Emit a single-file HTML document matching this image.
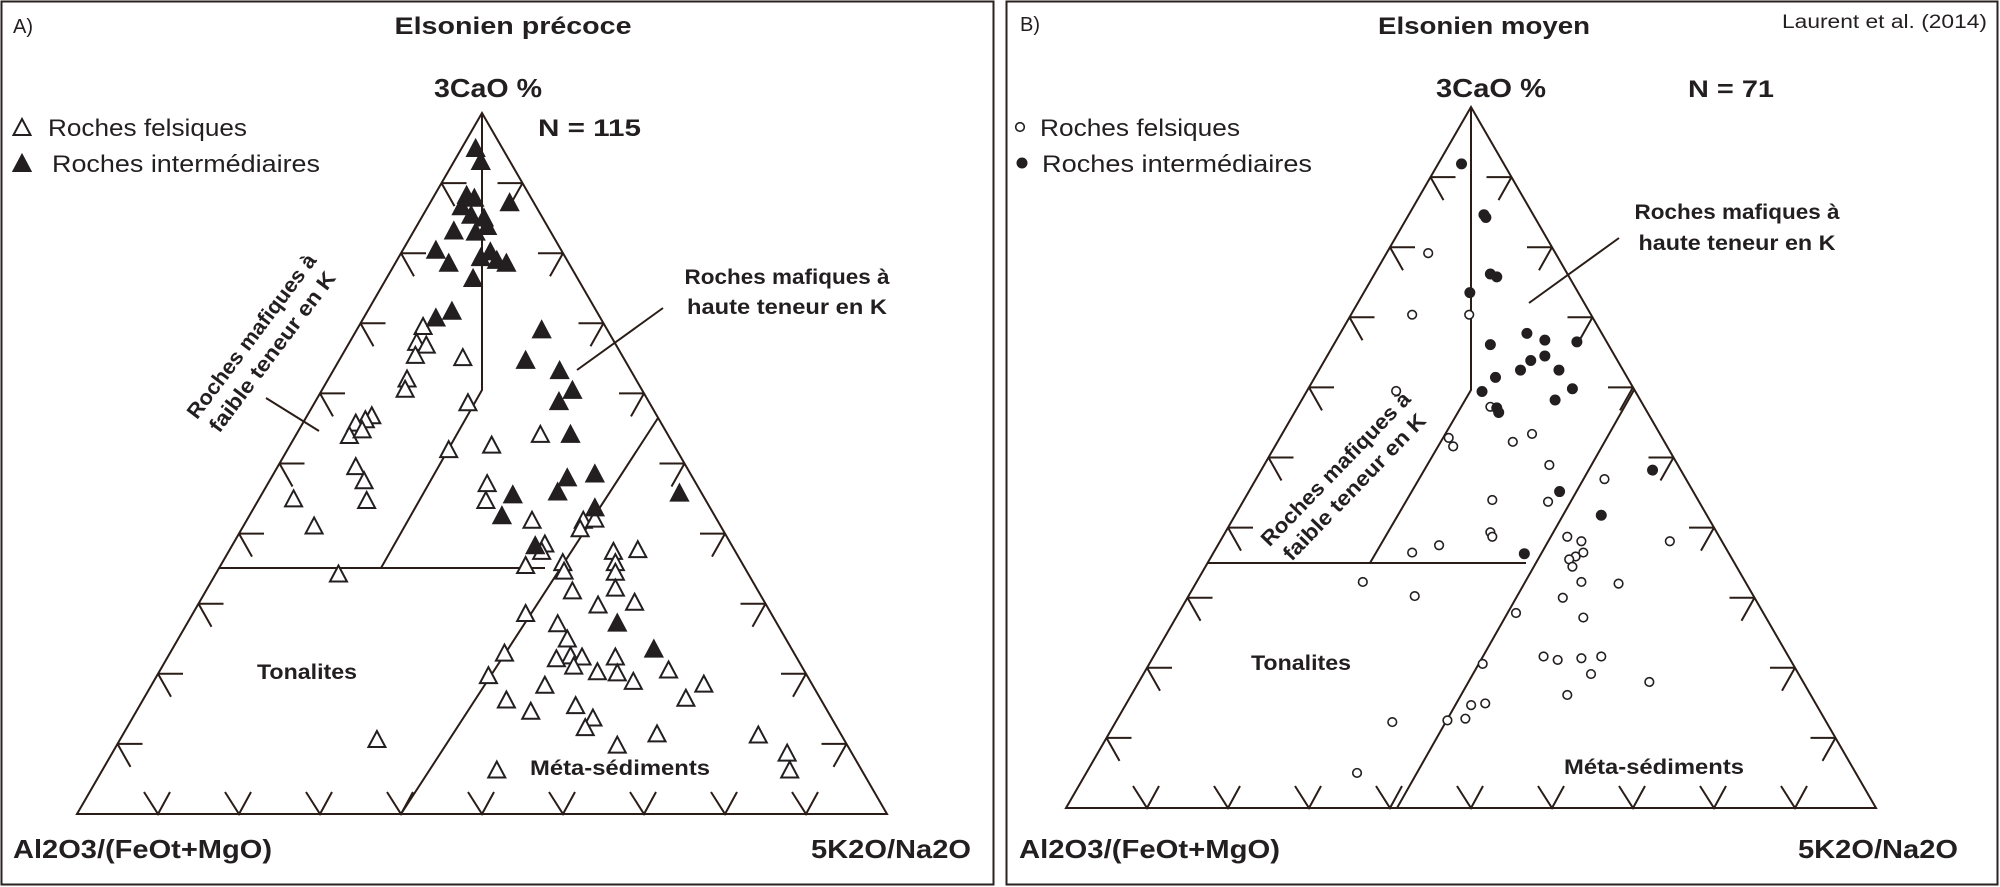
<!DOCTYPE html>
<html><head><meta charset="utf-8">
<style>
html,body{margin:0;padding:0;background:#fff;}
svg{display:block;}
text{font-family:"Liberation Sans",sans-serif;fill:#231f20;}
.b{font-weight:bold;}
</style></head>
<body>
<svg id="s" width="2000" height="887" viewBox="0 0 2000 887" xmlns="http://www.w3.org/2000/svg">
<rect x="1.5" y="1.5" width="992" height="883" fill="none" stroke="#2a2220" stroke-width="2"/>
<rect x="1006.5" y="1.5" width="991" height="883" fill="none" stroke="#2a2220" stroke-width="2"/>
<g id="geo" fill="none" stroke="#2a1c16" stroke-width="2"></g>
<g id="mk" stroke="#231f20" stroke-width="2"></g>

<!-- Panel A text -->
<text x="13" y="33" font-size="20">A)</text>
<text x="513" y="34" font-size="24" class="b" text-anchor="middle" textLength="237" lengthAdjust="spacingAndGlyphs">Elsonien précoce</text>
<text x="488" y="97" font-size="26" class="b" text-anchor="middle" textLength="108" lengthAdjust="spacingAndGlyphs">3CaO %</text>
<text x="538" y="136" font-size="24" class="b" textLength="103" lengthAdjust="spacingAndGlyphs">N = 115</text>
<text x="48" y="136" font-size="24" textLength="199" lengthAdjust="spacingAndGlyphs">Roches felsiques</text>
<text x="52" y="172" font-size="24" textLength="268" lengthAdjust="spacingAndGlyphs">Roches intermédiaires</text>
<text x="787" y="284" font-size="21" class="b" text-anchor="middle" textLength="205" lengthAdjust="spacingAndGlyphs">Roches mafiques à</text>
<text x="787" y="314" font-size="21" class="b" text-anchor="middle" textLength="200" lengthAdjust="spacingAndGlyphs">haute teneur en K</text>
<g transform="translate(262,344) rotate(-53)">
<text x="0" y="-6" font-size="21" class="b" text-anchor="middle" textLength="200" lengthAdjust="spacingAndGlyphs">Roches mafiques à</text>
<text x="0" y="20" font-size="21" class="b" text-anchor="middle" textLength="195" lengthAdjust="spacingAndGlyphs">faible teneur en K</text>
</g>
<text x="307" y="679" font-size="21" class="b" text-anchor="middle" textLength="100" lengthAdjust="spacingAndGlyphs">Tonalites</text>
<text x="620" y="775" font-size="21" class="b" text-anchor="middle" textLength="180" lengthAdjust="spacingAndGlyphs">Méta-sédiments</text>
<text x="13" y="858" font-size="26" class="b" textLength="259" lengthAdjust="spacingAndGlyphs">Al2O3/(FeOt+MgO)</text>
<text x="971" y="858" font-size="26" class="b" text-anchor="end" textLength="160" lengthAdjust="spacingAndGlyphs">5K2O/Na2O</text>

<!-- Panel B text -->
<text x="1020" y="31" font-size="20">B)</text>
<text x="1484" y="34" font-size="24" class="b" text-anchor="middle" textLength="212" lengthAdjust="spacingAndGlyphs">Elsonien moyen</text>
<text x="1987" y="28" font-size="19" text-anchor="end" textLength="205" lengthAdjust="spacingAndGlyphs">Laurent et al. (2014)</text>
<text x="1491" y="97" font-size="26" class="b" text-anchor="middle" textLength="110" lengthAdjust="spacingAndGlyphs">3CaO %</text>
<text x="1731" y="97" font-size="24" class="b" text-anchor="middle" textLength="86" lengthAdjust="spacingAndGlyphs">N = 71</text>
<text x="1040" y="136" font-size="24" textLength="200" lengthAdjust="spacingAndGlyphs">Roches felsiques</text>
<text x="1042" y="172" font-size="24" textLength="270" lengthAdjust="spacingAndGlyphs">Roches intermédiaires</text>
<text x="1737" y="219" font-size="21" class="b" text-anchor="middle" textLength="205" lengthAdjust="spacingAndGlyphs">Roches mafiques à</text>
<text x="1737" y="250" font-size="21" class="b" text-anchor="middle" textLength="197" lengthAdjust="spacingAndGlyphs">haute teneur en K</text>
<g transform="translate(1345,478) rotate(-46)">
<text x="0" y="-6" font-size="21" class="b" text-anchor="middle" textLength="205" lengthAdjust="spacingAndGlyphs">Roches mafiques à</text>
<text x="0" y="20" font-size="21" class="b" text-anchor="middle" textLength="195" lengthAdjust="spacingAndGlyphs">faible teneur en K</text>
</g>
<text x="1301" y="670" font-size="21" class="b" text-anchor="middle" textLength="100" lengthAdjust="spacingAndGlyphs">Tonalites</text>
<text x="1654" y="774" font-size="21" class="b" text-anchor="middle" textLength="180" lengthAdjust="spacingAndGlyphs">Méta-sédiments</text>
<text x="1019" y="858" font-size="26" class="b" textLength="261" lengthAdjust="spacingAndGlyphs">Al2O3/(FeOt+MgO)</text>
<text x="1958" y="858" font-size="26" class="b" text-anchor="end" textLength="160" lengthAdjust="spacingAndGlyphs">5K2O/Na2O</text>
</svg>
<script>
(function(){
var NS="http://www.w3.org/2000/svg";
var geo=document.getElementById("geo"),mk=document.getElementById("mk");
function el(p,tag,a){var e=document.createElementNS(NS,tag);for(var k in a)e.setAttribute(k,a[k]);p.appendChild(e);return e;}
function path(d,p){el(p||geo,"path",{d:d});}
function tri(ax,ay,by,hw,inner){
  var H=by-ay;
  path("M"+ax+","+ay+"L"+(ax-hw)+","+by+"L"+(ax+hw)+","+by+"Z");
  path(inner);
  for(var k=1;k<=9;k++){
    var y=ay+k*H/10, lx=ax-k*hw/10, rx=ax+k*hw/10, bx=ax-hw+k*2*hw/10;
    path("M"+lx+","+y+"h25M"+lx+","+y+"l13,23");
    path("M"+rx+","+y+"h-25M"+rx+","+y+"l-13,23");
    path("M"+(bx-14)+","+(by-22)+"L"+bx+","+by+"L"+(bx+12)+","+(by-22));
  }
}
tri(482,113,814,405,"M482,113L482,390L381,568M219,568L545,568M401,814L658,418M663,308L577,370M266,398L319,431");
tri(1471,107,808,405,"M1471,107L1471,390L1370,563M1208,563L1526,563M1397,808L1634,390M1619,238L1529,303");
function triM(x,y,f){el(mk,"path",{d:"M"+x+","+(y-8)+"L"+(x+8.5)+","+(y+8)+"L"+(x-8.5)+","+(y+8)+"Z",fill:f?"#231f20":"#fff"});}
function cir(x,y,f){el(mk,"circle",{cx:x,cy:y,r:f?5:4.3,fill:f?"#231f20":"#fff","stroke-width":f?1:1.6});}
var Af=[[742,262],[750,285],[728,345],[740,350],[720,365],[735,380],[795,358],[755,385],[708,408],[742,410],[760,400],[765,445],[680,442],[700,465],[750,455],[775,460],[790,465],[738,492],[680,562],[705,550],[845,583],[820,637],[873,655],[893,690],[872,710],[890,768],[928,838],[885,845],[870,870],[800,875],[783,912],[928,898],[835,965],[1060,872],[963,1102],[1020,1148]];
var Ao=[[660,577],[650,605],[665,610],[648,628],[722,632],[635,670],[632,688],[730,712],[580,735],[570,742],[555,748],[545,770],[565,760],[767,787],[843,768],[700,795],[555,825],[568,850],[572,885],[458,882],[490,930],[528,1015],[760,855],[758,885],[830,920],[910,920],[928,918],[905,935],[850,962],[845,975],[820,1000],[878,995],[880,1010],[957,975],[995,972],[960,995],[960,1012],[960,1040],[893,1045],[933,1070],[990,1065],[820,1085],[870,1103],[885,1130],[890,1160],[868,1165],[908,1162],[895,1178],[960,1162],[932,1188],[963,1190],[988,1205],[1043,1185],[1098,1210],[1070,1235],[787,1155],[762,1195],[850,1212],[790,1238],[828,1258],[898,1248],[925,1270],[913,1287],[963,1318],[1025,1298],[588,1308],[1183,1300],[1228,1332],[1232,1362],[775,1362]];
var Bf=[[720,290],[755,380],[758,385],[765,485],[775,490],[733,518],[765,610],[822,590],[850,602],[900,605],[812,655],[828,638],[850,630],[872,655],[773,668],[752,693],[893,688],[866,708],[775,722],[778,730],[1018,832],[873,870],[938,912],[818,980]];
var Bo=[[668,448],[643,557],[732,557],[618,692],[765,720],[700,775],[707,790],[800,782],[830,768],[857,823],[943,848],[768,885],[855,888],[765,942],[768,950],[685,965],[643,978],[885,950],[907,958],[910,978],[898,985],[888,990],[893,1003],[1045,958],[907,1030],[965,1033],[566,1030],[647,1055],[878,1058],[805,1085],[910,1093],[848,1162],[870,1168],[907,1165],[938,1162],[922,1193],[1013,1207],[885,1230],[753,1175],[735,1248],[757,1245],[698,1275],[726,1272],[612,1278],[557,1368]];
var sx=0.641,sy=0.565;
Ao.forEach(function(p){triM(p[0]*sx,p[1]*sy,false);});
Af.forEach(function(p){triM(p[0]*sx,p[1]*sy,true);});
Bo.forEach(function(p){cir(1000+p[0]*sx,p[1]*sy,false);});
Bf.forEach(function(p){cir(1000+p[0]*sx,p[1]*sy,true);});
// legend symbols
triM(22,127,false);triM(22,163,true);
cir(1020,127,false);cir(1022,163,true);
})();
</script>
</body></html>
